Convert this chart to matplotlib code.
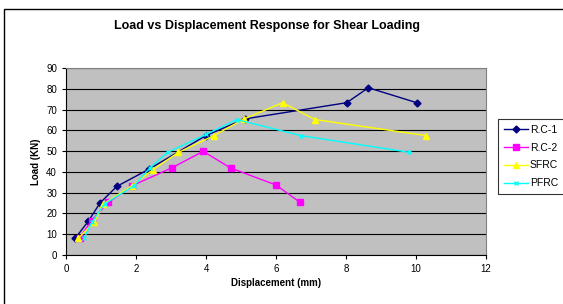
import matplotlib.pyplot as plt
from matplotlib.patches import Rectangle

plt.rcParams['font.family'] = ['Liberation Sans', 'DejaVu Sans']

# Data
rc1_x = [0.26, 0.64, 0.97, 1.45, 2.38, 4.0, 5.11, 8.02, 8.64, 10.02]
rc1_y = [8, 16.3, 25, 33, 41.4, 57.5, 65.5, 73.3, 80.5, 73.3]

rc2_x = [0.4, 0.73, 1.21, 1.88, 3.02, 3.92, 4.7, 6.0, 6.69]
rc2_y = [8.4, 16.6, 25.3, 33.3, 41.9, 49.9, 41.9, 33.7, 25.3]

sfrc_x = [0.35, 0.81, 1.07, 1.88, 2.48, 3.21, 4.23, 5.09, 6.19, 7.11, 10.28]
sfrc_y = [8, 15.8, 24.6, 33.3, 41, 49.4, 57.5, 65.5, 73.3, 65.2, 57.5]

pfrc_x = [0.51, 0.75, 1.1, 1.94, 2.4, 2.9, 4.0, 4.88, 6.7, 9.81]
pfrc_y = [8, 16, 24.6, 33.3, 42, 49.4, 58, 65.2, 57.5, 49.4]

fig = plt.figure(figsize=(5.63, 3.04), dpi=100)
ax = fig.add_axes([66/563, 1-255/304, 420/563, 187/304])

# outer chart border
fig.patches.append(Rectangle((4/563, -0.05), 1.1, 1-9/304+0.05, transform=fig.transFigure,
                             fill=False, edgecolor='black', linewidth=1.0))

ax.set_facecolor('#C0C0C0')
ax.plot(rc1_x, rc1_y, color='#000080', marker='D', markersize=3.5, linewidth=1, label='R.C-1')
ax.plot(rc2_x, rc2_y, color='#FF00FF', marker='s', markersize=4, linewidth=1, label='R.C-2')
ax.plot(sfrc_x, sfrc_y, color='#FFFF00', marker='^', markersize=5, linewidth=1, label='SFRC')
ax.plot(pfrc_x, pfrc_y, color='#00FFFF', marker='x', markersize=3.5, linewidth=1, label='PFRC')

ax.set_xlim(0, 12)
ax.set_ylim(0, 90)
ax.set_xticks(range(0, 13, 2))
ax.set_yticks(range(0, 91, 10))
ax.yaxis.grid(True, color='black', linewidth=0.8)
ax.set_axisbelow(True)
ax.tick_params(direction='out', length=3, labelsize=7, width=0.8)
for s in ['top', 'right']:
    ax.spines[s].set_color('#808080')
ax.spines['left'].set_color('black')
ax.spines['bottom'].set_color('black')

ax.set_xlabel('Displacement (mm)', fontsize=7, fontweight='bold', labelpad=3)
ax.set_ylabel('Load (KN)', fontsize=7, fontweight='bold', labelpad=4)
fig.text(0.475, 1-26/304, 'Load vs Displacement Response for Shear Loading',
         ha='center', va='center', fontsize=9, fontweight='bold')

leg = ax.legend(loc='upper left', bbox_to_anchor=(498/563, 1-119/304), bbox_transform=fig.transFigure,
                fontsize=7.5, frameon=True, fancybox=False, edgecolor='black', borderpad=0.55,
                handlelength=2.3, labelspacing=0.75, handletextpad=0.2, borderaxespad=0)
leg.get_frame().set_linewidth(0.8)

fig.savefig('out.png', dpi=100)
